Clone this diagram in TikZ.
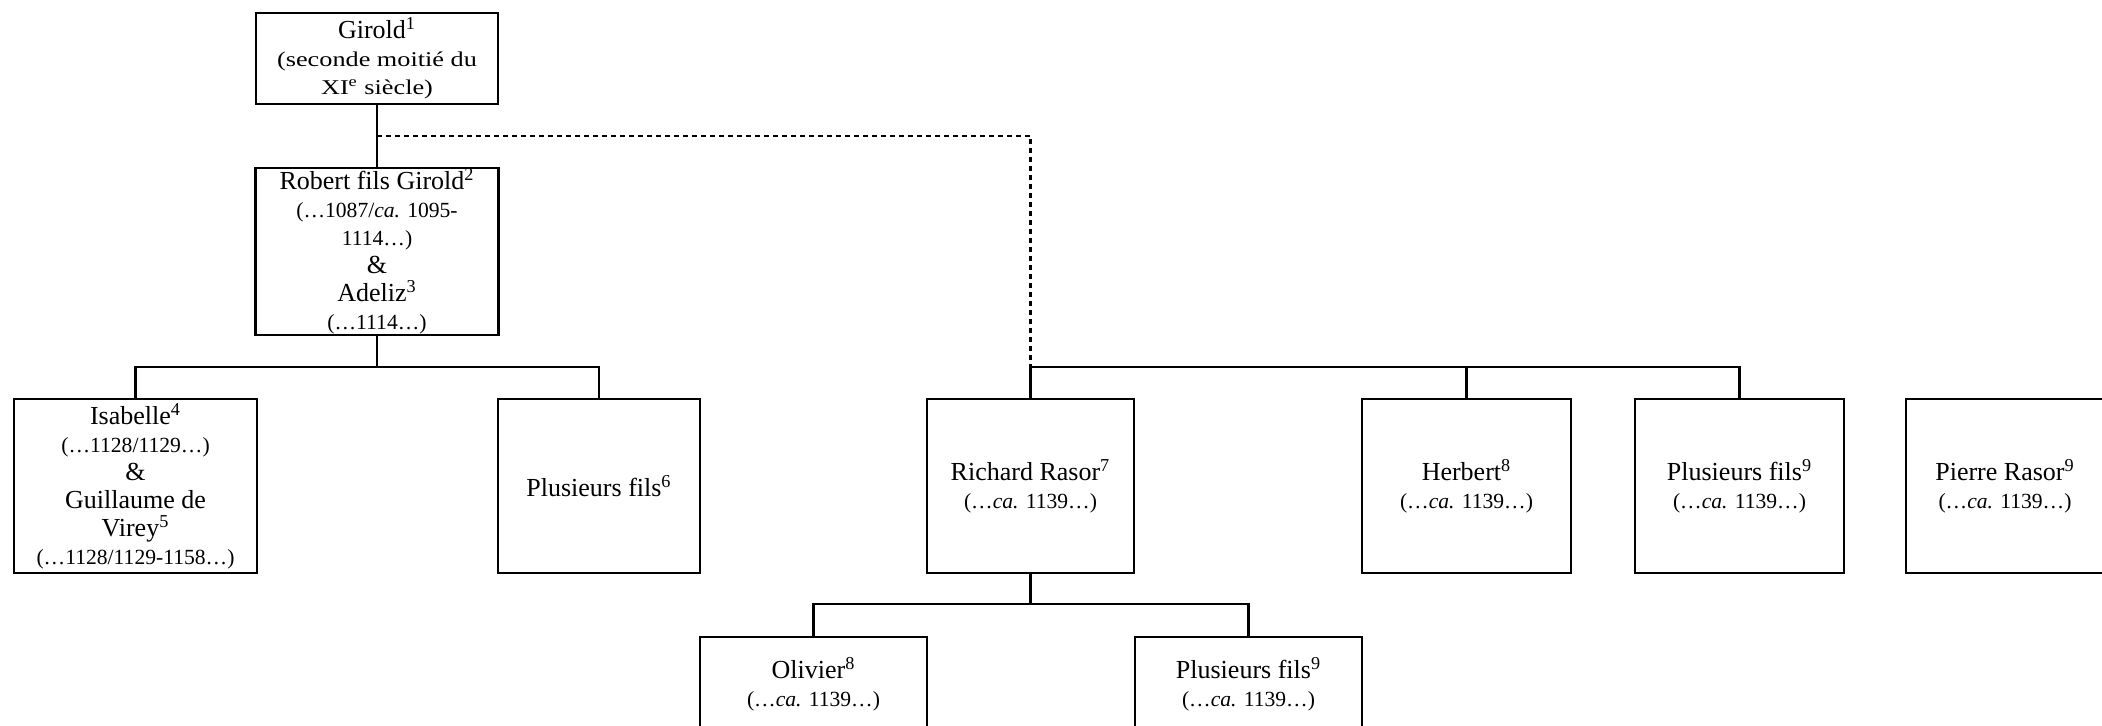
\documentclass[tikz,border=0pt]{standalone}
\usepackage{fontspec}
\setmainfont{Liberation Serif}
\newfontfamily\widefont[FakeStretch=1.25]{Liberation Serif}
\usetikzlibrary{calc}
\newcommand{\mainsz}{\fontsize{13}{14}\selectfont}
\newcommand{\smsz}{\fontsize{10.8}{12.5}\selectfont}
\newcommand{\widesz}{\widefont\fontsize{10.5}{12.5}\selectfont}
\tikzset{
  person/.style={draw, line width=1.2pt, rectangle, inner sep=0pt, align=center, font=\mainsz},
  conn/.style={line width=1.2pt},
  dconn/.style={line width=1.2pt, dash pattern=on 2.5pt off 2pt},
}
\begin{document}
\begin{tikzpicture}[x=0.5pt, y=-0.5pt]
\useasboundingbox (0,0) rectangle (2102,726);
\clip (0,0) rectangle (2102,726);
\node[person, minimum width=121pt, minimum height=45.5pt] (gir) at (377,58.5)
  {Girold\textsuperscript{1}\\\widesz (seconde moitié du\\\widesz XI\textsuperscript{e} siècle)};
\node[person, minimum width=121.5pt, minimum height=83.5pt] (rob) at (377,251.5)
  {Robert fils Girold\textsuperscript{2}\\\smsz (…1087/\textit{ca.} 1095-\\\smsz 1114…)\\\mainsz \&\\\mainsz Adeliz\textsuperscript{3}\\\smsz (…1114…)};
\node[person, minimum width=121.5pt, minimum height=87pt] (isa) at (135.5,486)
  {Isabelle\textsuperscript{4}\\\smsz (…1128/1129…)\\\mainsz \&\\\mainsz Guillaume de\\\mainsz Virey\textsuperscript{5}\\\smsz (…1128/1129-1158…)};
\node[person, minimum width=101pt, minimum height=87pt] (plusA) at (599,486)
  {Plusieurs fils\textsuperscript{6}};
\node[person, minimum width=103.5pt, minimum height=87pt] (rich) at (1030.5,486)
  {Richard Rasor\textsuperscript{7}\\\smsz (…\textit{ca.} 1139…)};
\node[person, minimum width=104.5pt, minimum height=87pt] (herb) at (1466.5,486)
  {Herbert\textsuperscript{8}\\\smsz (…\textit{ca.} 1139…)};
\node[person, minimum width=104.5pt, minimum height=87pt] (plusB) at (1739.5,486)
  {Plusieurs fils\textsuperscript{9}\\\smsz (…\textit{ca.} 1139…)};
\node[person, minimum width=99pt, minimum height=87pt] (pier) at (2005,486)
  {Pierre Rasor\textsuperscript{9}\\\smsz (…\textit{ca.} 1139…)};
\node[person, minimum width=113.5pt, minimum height=47pt] (oliv) at (813.5,684)
  {Olivier\textsuperscript{8}\\\smsz (…\textit{ca.} 1139…)};
\node[person, minimum width=113.5pt, minimum height=47pt] (plusC) at (1248.5,684)
  {Plusieurs fils\textsuperscript{9}\\\smsz (…\textit{ca.} 1139…)};
\coordinate (ybar) at (0,367);
\coordinate (ybarB) at (0,604);
\coordinate (dstart) at ($(gir.south)!0.5!(rob.north)$);
\draw[conn] (gir.south) -- (rob.north);
\draw[dconn] (dstart) -| (rich.north |- ybar);
\draw[conn] (rob.south) -- (rob.south |- ybar) -| (isa.north);
\draw[conn] (rob.south |- ybar) -| (plusA.north);
\draw[conn] (rich.north) -- (rich.north |- ybar) -| (plusB.north);
\draw[conn] (herb.north) -- (herb.north |- ybar);
\draw[conn] (rich.south) -- (rich.south |- ybarB) -| (oliv.north);
\draw[conn] (rich.south |- ybarB) -| (plusC.north);
\end{tikzpicture}
\end{document}
